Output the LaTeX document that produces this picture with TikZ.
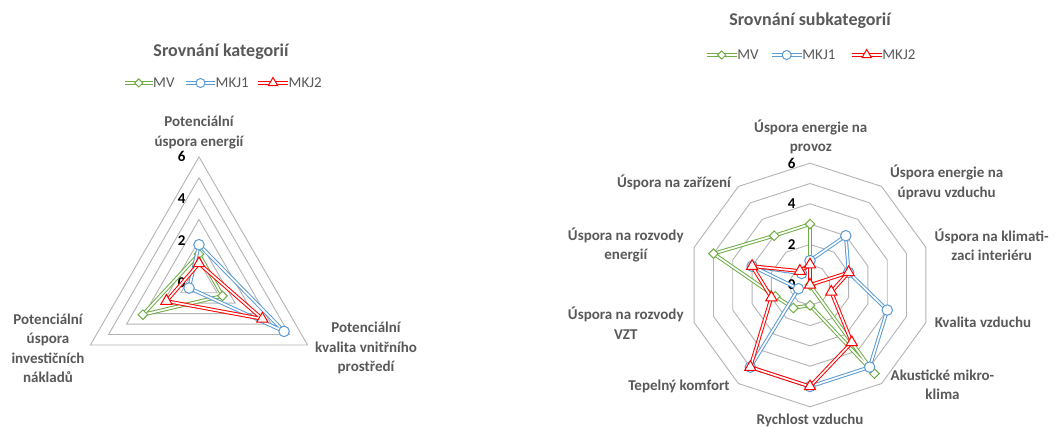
\documentclass[tikz,border=0pt]{standalone}
\usepackage{fontspec}
\setmainfont{Carlito}
\usetikzlibrary{shapes.geometric,calc}

\definecolor{mvgreen}{RGB}{112,173,71}
\definecolor{mkjblue}{RGB}{91,155,213}
\definecolor{mkjred}{RGB}{255,0,0}
\definecolor{labelgray}{RGB}{89,89,89}
\definecolor{gridgray}{RGB}{180,180,180}

\tikzset{
  grid ring/.style={draw=gridgray, line width=0.9pt, line join=miter},
  series/.style={draw=#1, double=white, line width=1pt, double distance=1.7pt, line join=round},
  mk diamond/.style={diamond, draw=#1, fill=white, line width=1pt, inner sep=0pt, minimum width=10pt, minimum height=10pt},
  mk circle/.style={circle, draw=#1, fill=white, line width=1pt, inner sep=0pt, minimum size=10.5pt},
  mk triangle/.style={regular polygon, regular polygon sides=3, draw=#1, fill=white, line width=1pt, inner sep=0pt, minimum size=13pt},
  axis label/.style={text=labelgray, font=\fontsize{15}{19.5}\selectfont\bfseries, align=center, inner sep=0pt},
  tick label/.style={font=\fontsize{15}{18}\selectfont\bfseries, text=black, inner sep=0pt},
  chart title/.style={text=labelgray, font=\fontsize{18}{21}\selectfont\bfseries, inner sep=0pt},
  legend text/.style={text=labelgray, font=\fontsize{15}{18}\selectfont, anchor=west, inner sep=0.5pt},
}

\begin{document}
\begin{tikzpicture}[x=1pt,y=1pt]
\useasboundingbox[fill=white] (0,0) rectangle (1057,427);

% ---------------- Left chart: three categories ----------------
\def\lcx{199}\def\lcy{144.7}\def\lu{20.9}
\coordinate (lc) at (\lcx,\lcy);

% triangular grid rings, one per unit
\foreach \k in {1,...,6}
  \draw[grid ring] ([shift={(lc)}]90:{\k*\lu pt}) -- ([shift={(lc)}]-30:{\k*\lu pt})
    -- ([shift={(lc)}]210:{\k*\lu pt}) -- cycle;

% tick labels
\foreach \t in {0,2,4,6}
  \node[tick label] (lt\t) at (181.7,{\lcy+\t*\lu}) {\t};

% series (top, bottom right, bottom left)
\foreach \name/\vals in {lmv/{1.35,1.3,3.1}, lka/{1.8,4.7,0.55}, lkb/{0.9,3.5,1.8}}{
  \foreach \v [count=\i from 0] in \vals
    \coordinate (\name\i) at ([shift={(lc)}]{90-120*\i}:{\v*\lu pt});
}
\draw[series=mvgreen] (lmv0) -- (lmv1) -- (lmv2) -- cycle;
\foreach \i in {0,1,2} \node[mk diamond=mvgreen] (lmvm\i) at (lmv\i) {};
\draw[series=mkjblue] (lka0) -- (lka1) -- (lka2) -- cycle;
\foreach \i in {0,1,2} \node[mk circle=mkjblue] (lkam\i) at (lka\i) {};
\draw[series=mkjred] (lkb0) -- (lkb1) -- (lkb2) -- cycle;
\foreach \i in {0,1,2} \node[mk triangle=mkjred] (lkbm\i) at (lkb\i) {};

% category labels
\node[axis label] (lax0) at (199,294.5) {Potenciální\\úspora energií};
\node[axis label] (lax1) at (366,78.7) {Potenciální\\kvalita vnitřního\\prostředí};
\node[axis label] (lax2) at (48,78.5) {Potenciální\\úspora\\investičních\\nákladů};

% title and legend
\node[chart title] (ltitle) at (221,375.3) {Srovnání kategorií};
\coordinate (lg1a) at (125,344); \coordinate (lg1b) at (152.5,344);
\coordinate (lg2a) at (186,344); \coordinate (lg2b) at (215,344);
\coordinate (lg3a) at (258,344); \coordinate (lg3b) at (288,344);
\draw[series=mvgreen] (lg1a) -- (lg1b);
\node[mk diamond=mvgreen, minimum width=8.5pt, minimum height=8.5pt] (lgm1) at ($(lg1a)!0.5!(lg1b)$) {};
\node[legend text] (lgt1) at (lg1b) {MV};
\draw[series=mkjblue] (lg2a) -- (lg2b);
\node[mk circle=mkjblue, minimum size=9pt] (lgm2) at ($(lg2a)!0.5!(lg2b)$) {};
\node[legend text] (lgt2) at (lg2b) {MKJ1};
\draw[series=mkjred] (lg3a) -- (lg3b);
\node[mk triangle=mkjred, minimum size=11pt] (lgm3) at ($(lg3a)!0.5!(lg3b)$) {};
\node[legend text] (lgt3) at (lg3b) {MKJ2};

% ---------------- Right chart: ten subcategories ----------------
\def\rcx{810}\def\rcy{142}\def\ru{20.3}
\coordinate (rc) at (\rcx,\rcy);

% decagonal grid rings
\foreach \k in {1,...,6}{
  \draw[grid ring] ([shift={(rc)}]90:{\k*\ru pt})
    \foreach \j in {1,...,9} { -- ([shift={(rc)}]{90-36*\j}:{\k*\ru pt}) } -- cycle;
}

\foreach \t in {0,2,4,6}
  \node[tick label] (rt\t) at (791.7,{\rcy+\t*\ru}) {\t};

% series, clockwise from the top axis
\foreach \name/\vals in {rmv/{3,0,0,0,5.4,1,1.4,1.8,5,3},
                         rka/{1.2,3,2,4,5,5,5,0.6,3,0.7},
                         rkb/{1,0,2,1.1,3.5,5,5,2,3,0.85}}{
  \foreach \v [count=\i from 0] in \vals
    \coordinate (\name\i) at ([shift={(rc)}]{90-36*\i}:{\v*\ru pt});
}
\draw[series=mvgreen] (rmv0) \foreach \i in {1,...,9} { -- (rmv\i) } -- cycle;
\foreach \i in {0,...,9} \node[mk diamond=mvgreen] (rmvm\i) at (rmv\i) {};
\draw[series=mkjblue] (rka0) \foreach \i in {1,...,9} { -- (rka\i) } -- cycle;
\foreach \i in {0,...,9} \node[mk circle=mkjblue] (rkam\i) at (rka\i) {};
\draw[series=mkjred] (rkb0) \foreach \i in {1,...,9} { -- (rkb\i) } -- cycle;
\foreach \i in {0,...,9} \node[mk triangle=mkjred] (rkbm\i) at (rkb\i) {};

% subcategory labels
\node[axis label] (rax0) at (810.8,290) {Úspora energie na\\provoz};
\node[axis label] (rax1) at (946.7,244.8) {Úspora energie na\\úpravu vzduchu};
\node[axis label] (rax2) at (991.7,182) {Úspora na klimati-\\zaci interiéru};
\node[axis label] (rax3) at (983,104.3) {Kvalita vzduchu};
\node[axis label] (rax4) at (942.5,42) {Akustické mikro-\\klima};
\node[axis label] (rax5) at (810,6.3) {Rychlost vzduchu};
\node[axis label] (rax6) at (679,41) {Tepelný komfort};
\node[axis label] (rax7) at (625.8,103.7) {Úspora na rozvody\\VZT};
\node[axis label] (rax8) at (625.8,182) {Úspora na rozvody\\energií};
\node[axis label] (rax9) at (674,244.3) {Úspora na zařízení};

% title and legend
\node[chart title] (rtitle) at (810,406.3) {Srovnání subkategorií};
\coordinate (rg1a) at (706.7,372); \coordinate (rg1b) at (736.7,372);
\coordinate (rg2a) at (771.7,372); \coordinate (rg2b) at (801.7,372);
\coordinate (rg3a) at (851.7,372); \coordinate (rg3b) at (881.7,372);
\draw[series=mvgreen] (rg1a) -- (rg1b);
\node[mk diamond=mvgreen, minimum width=8.5pt, minimum height=8.5pt] (rgm1) at ($(rg1a)!0.5!(rg1b)$) {};
\node[legend text] (rgt1) at (rg1b) {MV};
\draw[series=mkjblue] (rg2a) -- (rg2b);
\node[mk circle=mkjblue, minimum size=9pt] (rgm2) at ($(rg2a)!0.5!(rg2b)$) {};
\node[legend text] (rgt2) at (rg2b) {MKJ1};
\draw[series=mkjred] (rg3a) -- (rg3b);
\node[mk triangle=mkjred, minimum size=11pt] (rgm3) at ($(rg3a)!0.5!(rg3b)$) {};
\node[legend text] (rgt3) at (rg3b) {MKJ2};
\end{tikzpicture}
\end{document}
